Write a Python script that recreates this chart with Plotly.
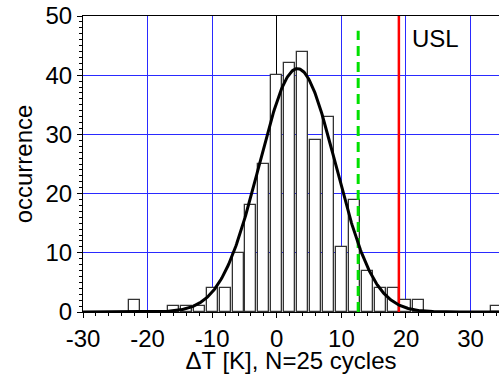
import numpy as np
import plotly.graph_objects as go

# Histogram data (bin centers in K, counts)
bin_centers = [-22, -16, -14, -12, -10, -8, -6, -4, -2, 0, 2, 4, 6, 8, 10, 12, 14, 16, 18, 20, 22, 34]
counts =      [2,   1,   1,   1,   4,   4,  10, 18, 25, 40, 42, 44, 29, 33, 11, 19, 7,  4,  4,  2,  2,  1]
bin_width = 2.0

# Normal fit parameters
fit_mean = 3.2
fit_sigma = 5.9

# Limit lines
green_limit = 12.6
usl_value = 18.9

x_ticks = [-30, -20, -10, 0, 10, 20, 30]
y_ticks = [0, 10, 20, 30, 40, 50]

n_total = sum(counts)
xc = np.linspace(-30, 35, 600)
yc = n_total * bin_width / (fit_sigma * np.sqrt(2 * np.pi)) * np.exp(-0.5 * ((xc - fit_mean) / fit_sigma) ** 2)

FONT = "Liberation Sans, Arial, sans-serif"

fig = go.Figure()
fig.add_trace(go.Bar(
    x=bin_centers, y=counts, width=1.7,
    marker=dict(color="white", line=dict(color="#333333", width=1.3)),
    showlegend=False, hoverinfo="skip",
))
fig.add_trace(go.Scatter(
    x=[green_limit, green_limit], y=[0, 47.5], mode="lines",
    line=dict(color="#00E000", width=3, dash="10px,6px"), showlegend=False,
))
fig.add_trace(go.Scatter(
    x=[usl_value, usl_value], y=[0, 50], mode="lines",
    line=dict(color="#FF0000", width=2.5), showlegend=False,
))
fig.add_trace(go.Scatter(
    x=xc, y=yc, mode="lines",
    line=dict(color="black", width=3), showlegend=False,
))

fig.add_annotation(
    x=usl_value + 1.7, y=46.2, xref="x", yref="y", text="USL", showarrow=False,
    xanchor="left", yanchor="middle", font=dict(family=FONT, size=24, color="black"),
)

fig.update_layout(
    width=499, height=374,
    margin=dict(l=83, r=0, t=16, b=62),
    paper_bgcolor="white", plot_bgcolor="white",
    font=dict(family=FONT, size=24, color="black"),
    bargap=0,
)
fig.update_xaxes(
    range=[-30, 34.4], tickmode="array", tickvals=x_ticks,
    ticktext=[str(v) for v in x_ticks],
    showgrid=True, gridcolor="#2A2AFF", gridwidth=1,
    zeroline=True, zerolinecolor="black", zerolinewidth=1,
    showline=True, linecolor="black", linewidth=1, mirror=True,
    ticks="outside", ticklen=5, tickcolor="black",
    minor=dict(dtick=2, ticks="outside", ticklen=3, tickcolor="black", showgrid=False),
    tickfont=dict(family=FONT, size=24),
    title=dict(text="ΔT [K], N=25 cycles", font=dict(family=FONT, size=24), standoff=4),
    automargin=False,
)
fig.update_yaxes(
    range=[0, 50], tickmode="array", tickvals=y_ticks,
    showgrid=True, gridcolor="#2A2AFF", gridwidth=1,
    zeroline=False,
    showline=True, linecolor="black", linewidth=1,
    ticks="outside", ticklen=5, tickcolor="black",
    minor=dict(dtick=1, ticks="outside", ticklen=3, tickcolor="black", showgrid=False),
    tickfont=dict(family=FONT, size=24),
    title=dict(text="occurrence", font=dict(family=FONT, size=24), standoff=6),
    automargin=False,
)

fig.write_html("out.html", config={"displayModeBar": False},
               post_script="document.body.style.margin='0';")
